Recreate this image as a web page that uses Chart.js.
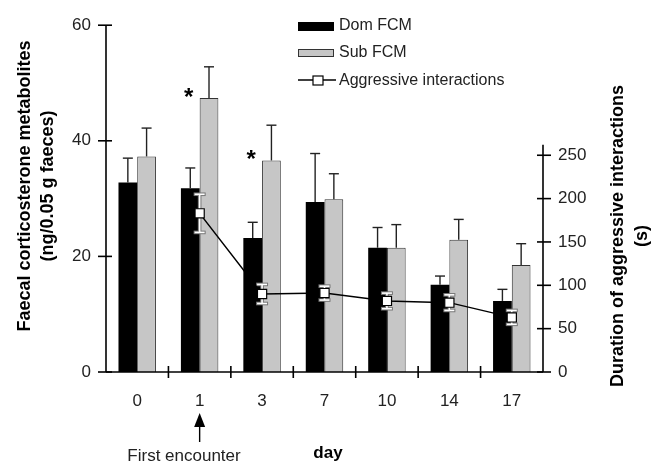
<!DOCTYPE html>
<html>
<head>
<meta charset="utf-8">
<script src="https://cdn.jsdelivr.net/npm/chart.js@4.4.0/dist/chart.umd.min.js"></script>
<style>
  html, body { margin: 0; padding: 0; background: #fff; }
  #wrap { width: 661px; height: 466px; }
</style>
</head>
<body>
<div id="wrap"><canvas id="chart" width="661" height="466"></canvas></div>
<script>
/* -------------------------------------------------
   Data
   ------------------------------------------------- */
const DAYS = ['0', '1', '3', '7', '10', '14', '17'];
const DOM_FCM = [32.8, 31.8, 23.2, 29.4, 21.5, 15.1, 12.3];
const DOM_SEM = [4.2, 3.5, 2.7, 8.4, 3.5, 1.5, 2.0];
const SUB_FCM = [37.3, 47.4, 36.6, 29.9, 21.5, 22.9, 18.5];
const SUB_SEM = [4.9, 5.4, 6.1, 4.4, 4.0, 3.5, 3.7];
const SUB_SIG = [false, true, true, false, false, false, false];
const AGGR = [null, 183, 90, 91, 82, 80, 63];
const AGGR_SEM = [null, 22, 11, 8, 9, 9, 8];
const LEFT_TICKS = [0, 20, 40, 60];
const RIGHT_TICKS = [0, 50, 100, 150, 200, 250];

const FONT = "'Liberation Sans', Arial, sans-serif";

/* -------------------------------------------------
   Helpers
   ------------------------------------------------- */
function line(ctx, x1, y1, x2, y2) {
  ctx.beginPath();
  ctx.moveTo(x1, y1);
  ctx.lineTo(x2, y2);
  ctx.stroke();
}

function barErrors(chart, dsIndex, values, sem) {
  const ctx = chart.ctx;
  const y = chart.scales.y;
  const meta = chart.getDatasetMeta(dsIndex);
  ctx.save();
  ctx.strokeStyle = '#222';
  ctx.lineWidth = 1.4;
  meta.data.forEach((bar, i) => {
    const top = y.getPixelForValue(values[i] + sem[i]);
    line(ctx, bar.x, bar.y, bar.x, top);
    line(ctx, bar.x - 5, top, bar.x + 5, top);
  });
  ctx.restore();
}

function lineErrors(chart) {
  const ctx = chart.ctx;
  const y1 = chart.scales.y1;
  const meta = chart.getDatasetMeta(2);
  ctx.save();
  meta.data.forEach((pt, i) => {
    if (AGGR[i] == null) return;
    const hi = y1.getPixelForValue(AGGR[i] + AGGR_SEM[i]);
    const lo = y1.getPixelForValue(AGGR[i] - AGGR_SEM[i]);
    [['#777', 3.6, 6], ['#fff', 1.6, 5]].forEach(([col, w, cap]) => {
      ctx.strokeStyle = col;
      ctx.lineWidth = w;
      line(ctx, pt.x, hi, pt.x, lo);
      line(ctx, pt.x - cap, hi, pt.x + cap, hi);
      line(ctx, pt.x - cap, lo, pt.x + cap, lo);
    });
  });
  ctx.restore();
}

function asterisks(chart) {
  const ctx = chart.ctx;
  const meta = chart.getDatasetMeta(1);
  ctx.save();
  ctx.fillStyle = '#000';
  ctx.font = 'bold 24px ' + FONT;
  ctx.textAlign = 'center';
  ctx.textBaseline = 'middle';
  meta.data.forEach((bar, i) => {
    if (SUB_SIG[i]) ctx.fillText('*', bar.x - bar.width / 2 - 11, bar.y);
  });
  ctx.restore();
}

/* -------------------------------------------------
   Custom drawing: axes, error bars, legend, titles
   ------------------------------------------------- */
const decor = {
  id: 'decor',
  beforeDatasetDraw(chart, args) {
    if (args.index !== 2) return;
    barErrors(chart, 0, DOM_FCM, DOM_SEM);
    barErrors(chart, 1, SUB_FCM, SUB_SEM);
    asterisks(chart);
    lineErrors(chart);
  },
  afterDraw(chart) {
    const ctx = chart.ctx;
    const { x, y, y1 } = chart.scales;
    const area = chart.chartArea;
    ctx.save();
    ctx.strokeStyle = '#000';
    ctx.lineWidth = 1.6;

    // left axis
    line(ctx, area.left, y.getPixelForValue(60), area.left, area.bottom);
    LEFT_TICKS.forEach(v => {
      const py = y.getPixelForValue(v);
      line(ctx, area.left - 8, py, area.left + 6, py);
    });

    // right axis (only up to ~262 s)
    line(ctx, area.right, y1.getPixelForValue(262), area.right, area.bottom);
    RIGHT_TICKS.forEach(v => {
      const py = y1.getPixelForValue(v);
      line(ctx, area.right - 6, py, area.right + 8, py);
    });

    // x axis with boundary ticks
    line(ctx, area.left, area.bottom, area.right, area.bottom);
    const step = (area.right - area.left) / DAYS.length;
    for (let i = 1; i < DAYS.length; i++) {
      const px = area.left + step * i;
      line(ctx, px, area.bottom - 6, px, area.bottom + 6);
    }

    // "First encounter" arrow under day 1
    const ax = x.getPixelForValue(1);
    ctx.lineWidth = 1.4;
    line(ctx, ax, 426, ax, 442);
    ctx.fillStyle = '#000';
    ctx.beginPath();
    ctx.moveTo(ax, 413);
    ctx.lineTo(ax - 5.5, 427);
    ctx.lineTo(ax + 5.5, 427);
    ctx.closePath();
    ctx.fill();

    ctx.fillStyle = '#222';
    ctx.font = '17px ' + FONT;
    ctx.textAlign = 'center';
    ctx.textBaseline = 'middle';
    ctx.fillText('First encounter', 184, 456);
    ctx.fillStyle = '#000';
    ctx.font = 'bold 17px ' + FONT;
    ctx.fillText('day', 328, 453);

    // axis titles
    ctx.font = 'bold 18px ' + FONT;
    ctx.save();
    ctx.translate(25, 186);
    ctx.rotate(-Math.PI / 2);
    ctx.fillText('Faecal corticosterone metabolites', 0, 0);
    ctx.fillText('(ng/0.05 g faeces)', 0, 23);
    ctx.restore();

    ctx.save();
    ctx.translate(618, 236);
    ctx.rotate(-Math.PI / 2);
    ctx.fillText('Duration of aggressive interactions', 0, 0);
    ctx.fillText('(s)', 0, 24);
    ctx.restore();

    // legend
    ctx.font = '16px ' + FONT;
    ctx.textAlign = 'left';
    ctx.fillStyle = '#000';
    ctx.fillRect(298, 22, 36, 9);
    ctx.fillStyle = '#222';
    ctx.fillText('Dom FCM', 339, 26);
    ctx.fillStyle = '#c6c6c6';
    ctx.fillRect(298, 49, 36, 8);
    ctx.lineWidth = 1;
    ctx.strokeStyle = '#333';
    ctx.strokeRect(298.5, 49.5, 35, 7);
    ctx.fillStyle = '#222';
    ctx.fillText('Sub FCM', 339, 53);
    ctx.strokeStyle = '#000';
    ctx.lineWidth = 1.5;
    line(ctx, 298, 80, 336, 80);
    ctx.fillStyle = '#fff';
    ctx.fillRect(313, 76, 10, 9);
    ctx.lineWidth = 1.2;
    ctx.strokeRect(313, 76, 10, 9);
    ctx.fillStyle = '#222';
    ctx.fillText('Aggressive interactions', 339, 81);

    ctx.restore();
  }
};

/* -------------------------------------------------
   Chart
   ------------------------------------------------- */
const TICK_FONT = { family: FONT, size: 17 };

new Chart(document.getElementById('chart').getContext('2d'), {
  type: 'bar',
  data: {
    labels: DAYS,
    datasets: [
      {
        label: 'Dom FCM',
        data: DOM_FCM,
        backgroundColor: '#000',
        borderWidth: 0,
        yAxisID: 'y',
        order: 1,
      },
      {
        label: 'Sub FCM',
        data: SUB_FCM,
        backgroundColor: '#c6c6c6',
        borderColor: '#333',
        borderWidth: 1,
        borderSkipped: 'bottom',
        yAxisID: 'y',
        order: 1,
      },
      {
        type: 'line',
        label: 'Aggressive interactions',
        data: AGGR,
        yAxisID: 'y1',
        borderColor: '#000',
        borderWidth: 1.5,
        pointStyle: 'rect',
        pointRadius: 6.5,
        pointBackgroundColor: '#fff',
        pointBorderColor: '#000',
        pointBorderWidth: 1.2,
        spanGaps: true,
        order: 0,
      },
    ],
  },
  options: {
    responsive: false,
    devicePixelRatio: 1,
    animation: false,
    layout: { padding: { top: 15, left: 0, right: 0, bottom: 0 } },
    datasets: { bar: { categoryPercentage: 0.6, barPercentage: 1.0 } },
    plugins: {
      legend: { display: false },
      tooltip: { enabled: false },
    },
    scales: {
      x: {
        grid: { display: false, drawTicks: false },
        border: { display: false },
        ticks: { color: '#222', font: TICK_FONT, padding: 19 },
        afterFit(scale) { scale.height = 94; },
      },
      y: {
        position: 'left',
        min: 0, max: 60,
        grid: { display: false, drawTicks: false },
        border: { display: false },
        ticks: { stepSize: 20, color: '#222', font: TICK_FONT, padding: 15 },
        afterFit(scale) { scale.width = 106; },
      },
      y1: {
        position: 'right',
        min: 0, max: 400,
        grid: { display: false, drawTicks: false },
        border: { display: false },
        ticks: {
          stepSize: 50,
          color: '#222',
          font: TICK_FONT,
          padding: 15,
          callback: v => (v <= 250 ? v : ''),
        },
        afterFit(scale) { scale.width = 118; },
      },
    },
  },
  plugins: [decor],
});
</script>
</body>
</html>
